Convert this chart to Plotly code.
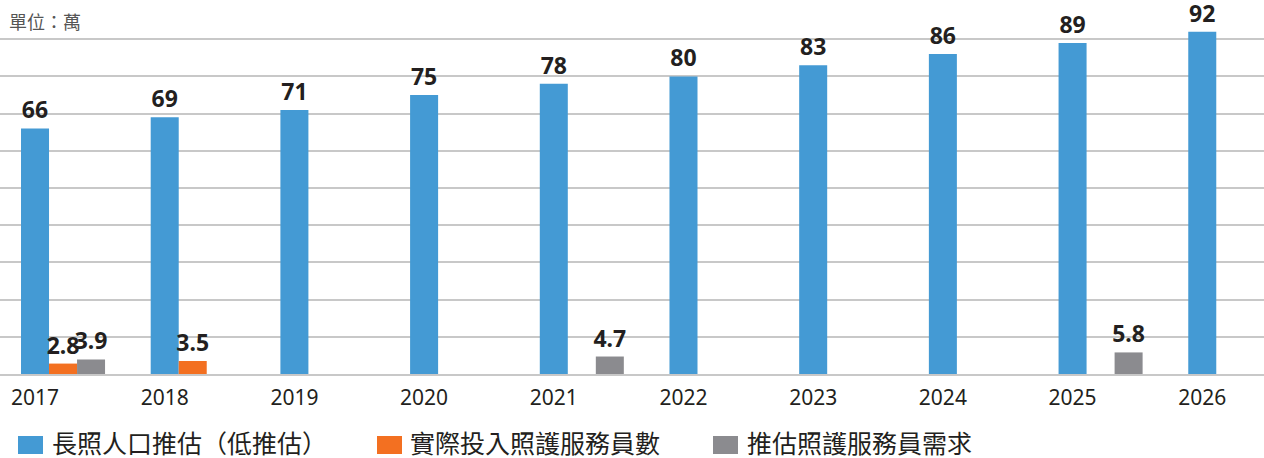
import plotly.graph_objects as go

years = ["2017", "2018", "2019", "2020", "2021", "2022", "2023", "2024", "2025", "2026"]
ltc_population = [66, 69, 71, 75, 78, 80, 83, 86, 89, 92]
actual_workers = [2.8, 3.5, None, None, None, None, None, None, None, None]
workers_needed = [3.9, None, None, None, 4.7, None, None, None, 5.8, None]

names = ["長照人口推估（低推估）", "實際投入照護服務員數", "推估照護服務員需求"]
colors = ["#449ad4", "#f37021", "#8b8b8f"]

W = 0.216
offsets = [-W / 2, W / 2, 1.5 * W]
series = [ltc_population, actual_workers, workers_needed]

FIG_W, FIG_H = 1264, 458
M_T, M_B = 2, 84
PLOT_H = FIG_H - M_T - M_B


def px_x(px):
    return px / FIG_W


def px_y(py):
    return (FIG_H - M_B - py) / PLOT_H


fig = go.Figure()
for name, vals, col, off in zip(names, series, colors, offsets):
    fig.add_trace(go.Bar(
        x=years, y=vals, name=name, marker_color=col, marker_line_width=0,
        width=W, offset=off, showlegend=False,
        text=[("" if v is None else f"{v:g}") for v in vals],
        textposition="outside", constraintext="none", cliponaxis=False,
        textfont=dict(family="Noto Sans", size=23, color="#231f20", weight="bold"),
    ))

# manual legend (large swatches as in the reference)
legend_swatch_x = [18, 377, 713]
legend_text_x = [50, 408, 745]
shapes = []
annotations = []
for name, col, sx, tx in zip(names, colors, legend_swatch_x, legend_text_x):
    shapes.append(dict(type="rect", xref="paper", yref="paper",
                       x0=px_x(sx), x1=px_x(sx + 25), y0=px_y(454), y1=px_y(436),
                       fillcolor=col, line=dict(width=0)))
    annotations.append(dict(text=name, xref="paper", yref="paper",
                            x=px_x(tx), y=px_y(442), xanchor="left", yanchor="middle",
                            showarrow=False,
                            font=dict(family="Noto Sans CJK TC", size=25, color="#231f20")))

annotations.append(dict(text="單位：萬", xref="paper", yref="paper", x=px_x(7), y=px_y(21),
                        xanchor="left", yanchor="middle", showarrow=False,
                        font=dict(family="Noto Sans CJK TC", size=18, color="#555555")))

fig.update_layout(
    width=FIG_W, height=FIG_H,
    margin=dict(l=0, r=0, t=M_T, b=M_B),
    barmode="overlay",
    plot_bgcolor="white", paper_bgcolor="white",
    font=dict(family="Noto Sans, Noto Sans CJK TC", color="#231f20"),
    showlegend=False,
    xaxis=dict(type="category", range=[-0.27, 9.476], showgrid=False,
               showline=True, linecolor="#c8c8c8", linewidth=2,
               tickfont=dict(family="Noto Sans", size=21, color="#231f20"),
               ticks="", ticklabelstandoff=4),
    yaxis=dict(range=[0, 100], dtick=10, showgrid=True, gridcolor="#c8c8c8",
               gridwidth=1.5, showticklabels=False, zeroline=False, ticks=""),
    shapes=shapes,
    annotations=annotations,
)

fig.write_html("out.html", config={"displayModeBar": False},
               post_script="document.body.style.margin='0';")
